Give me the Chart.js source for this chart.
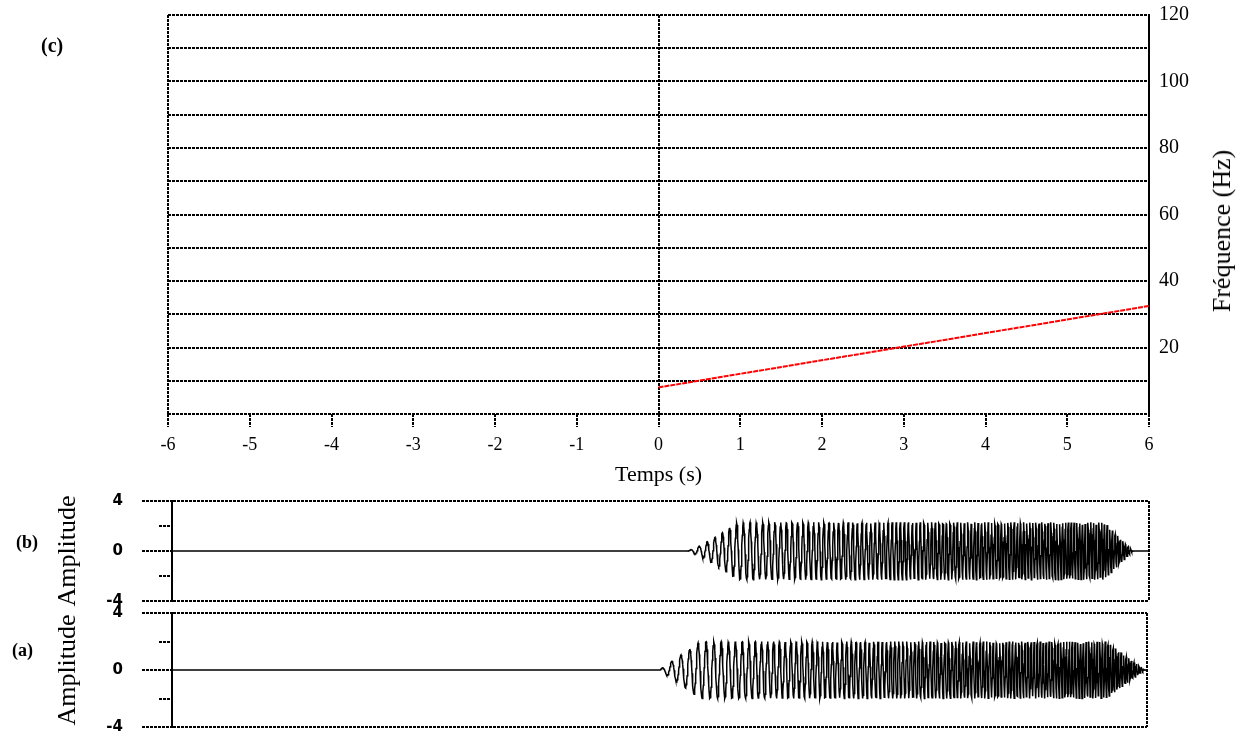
<!DOCTYPE html>
<html>
<head>
<meta charset="utf-8">
<script src="https://cdn.jsdelivr.net/npm/chart.js@4.4.1/dist/chart.umd.min.js"></script>
<style>
  html, body { margin: 0; padding: 0; background: #fff; }
  #page { position: relative; width: 1242px; height: 731px; overflow: hidden; background: #fff; }
  #page canvas { position: absolute; left: 0; }
  .lbl { position: absolute; font-family: "Liberation Serif", "Times New Roman", serif; color: #000; white-space: nowrap; line-height: 1; }
</style>
</head>
<body>
<div id="page">
  <canvas id="chartFreq" width="1242" height="490" style="top:0px"></canvas>
  <canvas id="chartB" width="1242" height="125" style="top:490px"></canvas>
  <canvas id="chartA" width="1242" height="131" style="top:600px"></canvas>
  <div class="lbl" style="left:41px;top:35px;font-size:20px;font-weight:bold">(c)</div>
  <div class="lbl" style="left:16px;top:533px;font-size:18px;font-weight:bold">(b)</div>
  <div class="lbl" style="left:12px;top:641px;font-size:18px;font-weight:bold">(a)</div>
  <div class="lbl" style="left:1222px;top:231px;font-size:26px;transform:translate(-50%,-50%) rotate(-90deg)">Fréquence (Hz)</div>
</div>
<script>
// ---- axes ----
const timeTicks = [-6, -5, -4, -3, -2, -1, 0, 1, 2, 3, 4, 5, 6];
const timeFrameLines = [-6, 0, 6];
const freqGrid = [0, 10, 20, 30, 40, 50, 60, 70, 80, 90, 100, 110, 120];
const freqLabels = [20, 40, 60, 80, 100, 120];
const ampTicks = [-4, -2, 0, 2, 4];
const ampLabels = [-4, 0, 4];
const ampMinor = [-2, 2];

// ---- instantaneous frequency of the sweep (red line, Hz) ----
const sweepTime = [0, 6];
const sweepFreq = [8, 32.5];

// ---- amplitude envelopes of the two recordings ----
const envATime = [0, 0.06, 0.25, 0.5, 5.5, 5.97];
const envAAmp  = [0, 0.25, 1.0, 2.0, 2.0, 0];
const envBTime = [0.33, 0.45, 0.7, 0.95, 5.45, 5.8];
const envBAmp  = [0, 0.3, 1.2, 2.3, 2.3, 0];

const sampleRate = 200; // samples per second

const INK = '#000';
const DASH = [3, 1];
const LW = 2;
const SERIF = '"Liberation Serif", "Times New Roman", serif';
const SANS = '"DejaVu Sans", "Liberation Sans", sans-serif';

function piecewise(xs, ys, t) {
  if (t < xs[0] || t > xs[xs.length - 1]) return 0;
  for (let i = 1; i < xs.length; i++) {
    if (t <= xs[i]) {
      const f = (t - xs[i - 1]) / (xs[i] - xs[i - 1]);
      return ys[i - 1] + f * (ys[i] - ys[i - 1]);
    }
  }
  return ys[0];
}

// waveform of the sweep: phase accumulated from the frequency line, scaled by an envelope
function sweepWave(envT, envV) {
  const pts = [{ x: timeTicks[0], y: 0 }];
  const t0 = sweepTime[0], t1 = sweepTime[sweepTime.length - 1];
  const n = Math.round((t1 - t0) * sampleRate);
  let phase = 0;
  for (let i = 0; i <= n; i++) {
    const t = t0 + i / sampleRate;
    const f = piecewise(sweepTime, sweepFreq, t);
    pts.push({ x: t, y: piecewise(envT, envV, t) * Math.sin(phase) });
    phase += 2 * Math.PI * f / sampleRate;
  }
  return pts;
}

// fixed axis boxes so the plot areas sit exactly where the panels are
function fixBox(size) {
  return s => {
    if (s.isHorizontal()) s.height = size; else s.width = size;
    s.paddingTop = 0; s.paddingBottom = 0; s.paddingLeft = 0; s.paddingRight = 0;
  };
}

const minorTicks = {
  id: 'minorTicks',
  afterDraw(chart, args, opts) {
    const y = chart.scales.y, ctx = chart.ctx, left = chart.chartArea.left;
    ctx.save();
    ctx.strokeStyle = INK; ctx.lineWidth = LW; ctx.setLineDash(DASH);
    (opts.values || []).forEach(v => {
      const py = Math.round(y.getPixelForValue(v));
      ctx.beginPath(); ctx.moveTo(left - 13, py); ctx.lineTo(left, py); ctx.stroke();
    });
    ctx.restore();
  }
};

// ---- frequency panel (c) ----
new Chart(document.getElementById('chartFreq'), {
  type: 'line',
  data: {
    datasets: [{
      data: sweepTime.map((t, i) => ({ x: t, y: sweepFreq[i] })),
      borderColor: '#ff0000', borderWidth: 2, borderDash: [5, 1],
      pointRadius: 0, tension: 0, fill: false
    }]
  },
  options: {
    responsive: false, animation: false,
    layout: { autoPadding: false, padding: { left: 168, top: 15, right: 0, bottom: 0 } },
    plugins: { legend: { display: false }, tooltip: { enabled: false } },
    scales: {
      x: {
        type: 'linear', min: -6, max: 6,
        afterBuildTicks: s => { s.ticks = timeTicks.map(v => ({ value: v })); },
        afterFit: fixBox(76),
        ticks: { color: INK, padding: 7, maxRotation: 0, autoSkip: false,
                 font: { family: SERIF, size: 18 } },
        grid: {
          color: c => timeFrameLines.includes(c.tick.value) ? INK : 'rgba(0,0,0,0)',
          lineWidth: LW, tickLength: 13, tickColor: INK, tickWidth: LW, tickBorderDash: DASH
        },
        border: { display: false, dash: DASH },
        title: { display: true, text: 'Temps (s)', color: INK,
                 font: { family: SERIF, size: 22 }, padding: { top: 0, bottom: 2 } }
      },
      y: {
        type: 'linear', position: 'right', min: 0, max: 120,
        afterBuildTicks: s => { s.ticks = freqGrid.map(v => ({ value: v })); },
        afterFit: fixBox(93),
        ticks: { color: INK, padding: 10, autoSkip: false,
                 callback: v => freqLabels.includes(v) ? String(v) : '',
                 font: { family: SERIF, size: 20 } },
        grid: { color: INK, lineWidth: LW, drawTicks: false },
        border: { display: true, color: INK, width: LW, dash: DASH }
      }
    }
  }
});

// ---- amplitude panels (b) and (a) ----
function ampChart(id, points, topPad, bottomH, rightPad) {
  return new Chart(document.getElementById(id), {
    type: 'line',
    data: { datasets: [{ data: points, borderColor: INK, borderWidth: 1.5, pointRadius: 0, tension: 0, fill: false }] },
    options: {
      responsive: false, animation: false, parsing: false,
      layout: { autoPadding: false, padding: { left: 0, top: topPad, right: rightPad, bottom: 0 } },
      plugins: { legend: { display: false }, tooltip: { enabled: false }, minorTicks: { values: ampMinor } },
      scales: {
        x: {
          type: 'linear', min: -6, max: 6,
          afterBuildTicks: s => { s.ticks = timeTicks.map(v => ({ value: v })); },
          afterFit: fixBox(bottomH),
          ticks: { display: false },
          grid: { color: c => c.tick.value === 6 ? INK : 'rgba(0,0,0,0)', lineWidth: LW, drawTicks: false },
          border: { display: false, dash: DASH }
        },
        y: {
          type: 'linear', position: 'left', min: -4, max: 4,
          afterBuildTicks: s => { s.ticks = ampTicks.map(v => ({ value: v })); },
          afterFit: fixBox(172),
          ticks: { color: INK, padding: 19, autoSkip: false,
                   callback: v => ampLabels.includes(v) ? String(v) : '',
                   font: { family: SANS, size: 15, weight: 'bold' } },
          grid: {
            color: c => Math.abs(c.tick.value) === 4 ? INK : 'rgba(0,0,0,0)',
            lineWidth: LW, tickLength: 30,
            tickColor: c => ampLabels.includes(c.tick.value) ? INK : 'rgba(0,0,0,0)',
            tickWidth: LW, tickBorderDash: DASH
          },
          border: { display: true, color: INK, width: LW, dash: DASH },
          title: { display: true, text: 'Amplitude', color: INK,
                   font: { family: SERIF, size: 26 }, padding: { top: 53, bottom: 0 } }
        }
      }
    },
    plugins: [minorTicks]
  });
}

ampChart('chartB', sweepWave(envBTime, envBAmp), 11, 14, 93);
ampChart('chartA', sweepWave(envATime, envAAmp), 13, 4, 95);
</script>
</body>
</html>
